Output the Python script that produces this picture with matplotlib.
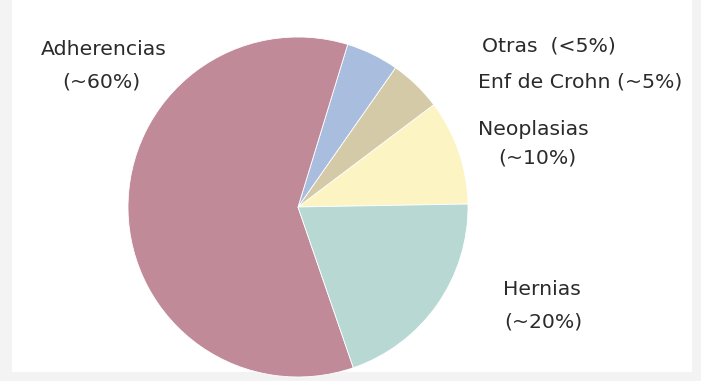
import matplotlib.pyplot as plt
from matplotlib.patches import Rectangle

# datos del grafico
causas = ['Neoplasias', 'Enf de Crohn', 'Otras', 'Adherencias', 'Hernias']
valores = [10, 5, 5, 60, 20]
colores = ['#fdf4c4', '#d4caa8', '#a9bddf', '#c08a99', '#b7d8d3']

W, H = 701, 381
fig = plt.figure(figsize=(W / 100, H / 100), dpi=100, facecolor='#f3f3f3')
ax = fig.add_axes([0, 0, 1, 1])
ax.add_patch(Rectangle((12, 9), 680, H, facecolor='white', edgecolor='none', zorder=0))

cx, cy, r = 298, H - 207, 170
ax.pie(valores, colors=colores, startangle=1, counterclock=True,
       center=(cx, cy), radius=r, frame=True,
       wedgeprops=dict(edgecolor='white', linewidth=0.6))
ax.set_xlim(0, W)
ax.set_ylim(0, H)
ax.set_aspect('equal')
ax.axis('off')

txt = dict(fontsize=14.7, color='#2b2b2b', va='baseline', family='DejaVu Sans')
ax.text(104, H - 55, 'Adherencias', ha='center', **txt)
ax.text(101, H - 88, '(~60%)', ha='center', **txt)
ax.text(482, H - 52, 'Otras  (<5%)', ha='left', **txt)
ax.text(478, H - 87, 'Enf de Crohn (~5%)', ha='left', **txt)
ax.text(478, H - 135, 'Neoplasias', ha='left', **txt)
ax.text(498, H - 164, '(~10%)', ha='left', **txt)
ax.text(542, H - 295, 'Hernias', ha='center', **txt)
ax.text(543, H - 328, '(~20%)', ha='center', **txt)

fig.savefig('out.png', dpi=100, facecolor=fig.get_facecolor())
